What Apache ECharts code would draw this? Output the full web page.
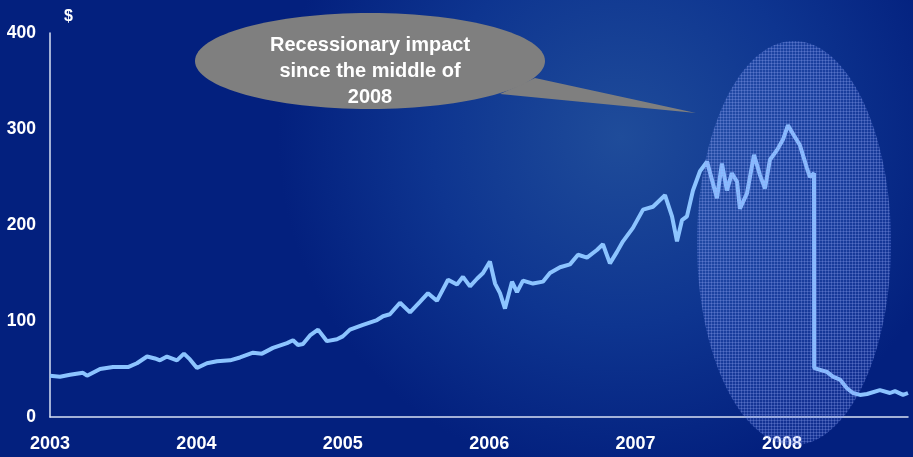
<!DOCTYPE html>
<html>
<head>
<meta charset="utf-8">
<script src="https://cdn.jsdelivr.net/npm/echarts@6/dist/echarts.min.js"></script>
<style>
  html, body { margin: 0; padding: 0; }
  #chart { width: 913px; height: 457px; }
</style>
</head>
<body>
<div id="chart"></div>
<script>
// decimal years
const years = [
  2003.000, 2003.068, 2003.137, 2003.225, 2003.253, 2003.342, 2003.430, 2003.533, 2003.594, 2003.663,
  2003.717, 2003.751, 2003.799, 2003.867, 2003.915, 2003.956, 2004.004, 2004.072, 2004.141, 2004.230,
  2004.298, 2004.387, 2004.448, 2004.523, 2004.619, 2004.660, 2004.694, 2004.728, 2004.776, 2004.831,
  2004.892, 2004.960, 2005.000, 2005.049, 2005.138, 2005.234, 2005.275, 2005.322, 2005.391, 2005.459,
  2005.527, 2005.582, 2005.643, 2005.719, 2005.780, 2005.821, 2005.869, 2005.917, 2005.958, 2006.005,
  2006.040, 2006.074, 2006.108, 2006.156, 2006.190, 2006.231, 2006.299, 2006.367, 2006.415, 2006.484,
  2006.552, 2006.607, 2006.668, 2006.736, 2006.777, 2006.825, 2006.873, 2006.914, 2006.982, 2007.051,
  2007.119, 2007.201, 2007.249, 2007.283, 2007.317, 2007.351, 2007.392, 2007.440, 2007.488, 2007.522,
  2007.556, 2007.590, 2007.624, 2007.658, 2007.693, 2007.713, 2007.761, 2007.809, 2007.850, 2007.884,
  2007.918, 2007.966, 2008.007, 2008.041, 2008.075, 2008.123, 2008.171, 2008.191, 2008.219, 2008.220,
  2008.307, 2008.348, 2008.396, 2008.444, 2008.485, 2008.533, 2008.581, 2008.669, 2008.738, 2008.772,
  2008.827, 2008.861
];
const prices = [
  43, 42, 44, 46, 43, 50, 52, 52, 56, 63,
  61, 59, 63, 59, 66, 60, 51, 56, 58, 59,
  62, 67, 66, 72, 77, 80, 75, 76, 85, 91,
  79, 81, 84, 91, 96, 101, 105, 107, 119, 109,
  120, 129, 121, 143, 138, 146, 136, 144, 150, 162,
  139, 129, 113, 141, 130, 142, 139, 141, 150, 156,
  159, 169, 166, 174, 180, 160, 172, 183, 197, 216,
  219, 231, 209, 183, 205, 209, 236, 256, 266, 247,
  228, 264, 236, 254, 245, 217, 233, 273, 252, 238,
  268, 278, 289, 304, 295, 283, 259, 250, 254, 51,
  47, 42, 39, 30, 25, 23, 24, 28, 25, 27,
  23, 25
];
const yearTicks = [2003, 2004, 2005, 2006, 2007, 2008];
const bubbleLines = ['Recessionary impact', 'since the middle of', '2008'];

const points = years.map((y, i) => [y, prices[i]]);

// small grid tile for the highlighted 2008 ellipse
const tile = document.createElement('canvas');
tile.width = 3; tile.height = 3;
const tctx = tile.getContext('2d');
tctx.fillStyle = 'rgba(110,140,255,0.15)';
tctx.fillRect(0, 0, 3, 3);
tctx.fillStyle = 'rgba(150,170,245,0.28)';
tctx.fillRect(0, 0, 3, 1);
tctx.fillRect(0, 0, 1, 3);

const labelFont = { color: '#ffffff', fontWeight: 'bold', fontSize: 17.5, fontFamily: 'Liberation Sans, Arial, sans-serif' };

let myChart = echarts.init(document.getElementById('chart'));
let option = {
  backgroundColor: {
    type: 'radial', x: 0.68, y: 0.3, r: 0.75,
    colorStops: [
      { offset: 0, color: '#1f4c9a' },
      { offset: 0.55, color: '#0e3590' },
      { offset: 1, color: '#03207e' }
    ]
  },
  animation: false,
  grid: { left: 50, right: 5, top: 33, bottom: 40 },
  xAxis: {
    type: 'value',
    min: 2003,
    max: 2008.861,
    interval: 1,
    axisLine: { lineStyle: { color: '#d8e0f4', width: 1.5 } },
    axisTick: { show: false },
    splitLine: { show: false },
    axisLabel: Object.assign({}, labelFont, {
      fontSize: 18,
      margin: 18,
      showMaxLabel: false,
      formatter: v => yearTicks.includes(v) ? String(v) : ''
    })
  },
  yAxis: {
    type: 'value',
    min: 0,
    max: 400,
    interval: 100,
    name: '$',
    nameGap: 8,
    nameTextStyle: Object.assign({}, labelFont, { fontSize: 16, align: 'left', padding: [0, 0, 0, 14] }),
    axisLine: { show: true, lineStyle: { color: '#d8e0f4', width: 1.5 } },
    axisTick: { show: false },
    splitLine: { show: false },
    axisLabel: Object.assign({}, labelFont, { margin: 14 })
  },
  series: [
    {
      type: 'line',
      data: points,
      showSymbol: false,
      smooth: false,
      lineStyle: { color: '#8cc4ff', width: 4 },
      z: 2
    }
  ],
  graphic: [
    {
      type: 'ellipse',
      shape: { cx: 794, cy: 243, rx: 97, ry: 202 },
      style: { fill: { image: tile, repeat: 'repeat' } },
      z: 50
    },
    {
      type: 'polygon',
      shape: { points: [[535, 78], [500, 94], [696, 113]] },
      style: { fill: '#7f7f7f' },
      z: 60
    },
    {
      type: 'ellipse',
      shape: { cx: 370, cy: 61, rx: 175, ry: 48 },
      style: { fill: '#7f7f7f' },
      z: 61
    },
    {
      type: 'text',
      x: 370, y: 71,
      style: {
        text: bubbleLines.join('\n'),
        fill: '#ffffff',
        font: 'bold 20px "Liberation Sans", Arial, sans-serif',
        align: 'center',
        verticalAlign: 'middle',
        lineHeight: 26
      },
      z: 62
    }
  ]
};
myChart.setOption(option);
</script>
</body>
</html>
